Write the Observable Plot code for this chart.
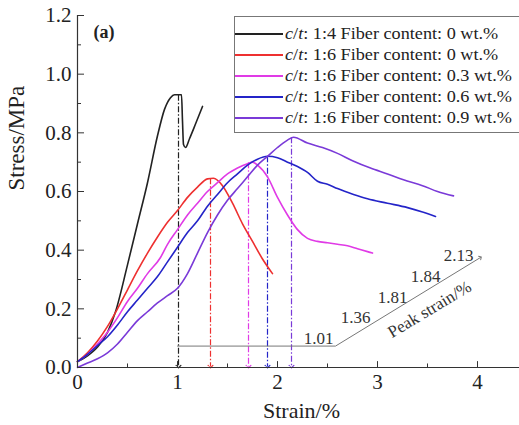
<!DOCTYPE html>
<html>
<head>
<meta charset="utf-8">
<script src="https://cdn.jsdelivr.net/npm/d3@7"></script>
<script src="https://cdn.jsdelivr.net/npm/@observablehq/plot@0.6"></script>
<style>
  html, body { margin: 0; padding: 0; background: #fff; }
  #wrap { position: relative; width: 519px; height: 425px; overflow: hidden; font-family: "Liberation Serif", "Times New Roman", serif; }
  #legend { position: absolute; left: 234px; top: 16px; width: 320px; height: 117px; border: 1px solid #777; background: #fff; box-sizing: border-box; padding-top: 6px; }
  .row { display: flex; align-items: center; height: 21px; font-size: 17px; color: #222; white-space: nowrap; }
  .sw { width: 48px; height: 2px; margin-right: 2px; flex: none; }
  .lt { display: inline-block; transform: scaleX(1.07); transform-origin: left center; }
</style>
</head>
<body>
<div id="wrap"></div>
<script>
// ---- data ----
const legendRatio = ["1:4", "1:6", "1:6", "1:6", "1:6"];
const legendFiber = ["0", "0", "0.3", "0.6", "0.9"];
const colors = ["#222222", "#ee3030", "#e03ae6", "#2424c8", "#7a3ad8"];

const black = [[0,0.02],[0.1,0.04],[0.2,0.07],[0.3,0.12],[0.38,0.19],[0.5,0.35],[0.6,0.49],[0.7,0.63],[0.8,0.79],[0.87,0.88],[0.93,0.92],[0.97,0.93],[1.04,0.93],[1.05,0.84],[1.06,0.76],[1.08,0.75],[1.12,0.78],[1.18,0.83],[1.25,0.89]];
const red = [[0,0.02],[0.1,0.05],[0.2,0.09],[0.3,0.14],[0.4,0.2],[0.5,0.265],[0.6,0.33],[0.7,0.39],[0.8,0.445],[0.9,0.495],[1.0,0.535],[1.1,0.58],[1.2,0.615],[1.3,0.643],[1.36,0.645],[1.45,0.62],[1.55,0.56],[1.65,0.49],[1.75,0.43],[1.85,0.37],[1.95,0.32]];
const magenta = [[0,0.02],[0.1,0.045],[0.2,0.08],[0.3,0.12],[0.4,0.17],[0.5,0.225],[0.6,0.27],[0.7,0.32],[0.83,0.375],[0.9,0.42],[1.0,0.47],[1.1,0.52],[1.2,0.56],[1.3,0.6],[1.4,0.63],[1.5,0.66],[1.6,0.68],[1.7,0.695],[1.75,0.7],[1.8,0.69],[1.9,0.65],[2.0,0.58],[2.1,0.52],[2.2,0.47],[2.3,0.44],[2.4,0.43],[2.5,0.425],[2.6,0.42],[2.7,0.415],[2.8,0.405],[2.9,0.395],[2.95,0.39]];
const blue = [[0,0.02],[0.1,0.045],[0.2,0.075],[0.3,0.105],[0.4,0.145],[0.5,0.19],[0.6,0.23],[0.7,0.27],[0.8,0.31],[0.9,0.36],[1.0,0.41],[1.1,0.46],[1.2,0.5],[1.3,0.55],[1.4,0.59],[1.5,0.63],[1.6,0.66],[1.7,0.69],[1.8,0.71],[1.9,0.72],[2.0,0.715],[2.1,0.7],[2.2,0.685],[2.3,0.665],[2.4,0.635],[2.5,0.625],[2.6,0.61],[2.76,0.59],[2.9,0.575],[3.1,0.56],[3.3,0.545],[3.45,0.53],[3.58,0.515]];
const purple = [[0,0.0],[0.1,0.015],[0.2,0.03],[0.3,0.05],[0.4,0.08],[0.5,0.12],[0.6,0.16],[0.7,0.19],[0.8,0.22],[0.9,0.245],[1.0,0.27],[1.1,0.32],[1.2,0.39],[1.3,0.46],[1.4,0.52],[1.5,0.57],[1.6,0.61],[1.7,0.65],[1.8,0.69],[1.9,0.72],[2.0,0.75],[2.1,0.775],[2.16,0.785],[2.3,0.765],[2.45,0.75],[2.6,0.73],[2.75,0.705],[2.93,0.68],[3.1,0.66],[3.26,0.64],[3.45,0.62],[3.6,0.6],[3.76,0.585]];
const curves = [black, red, magenta, blue, purple];

// peak drop lines (drawn position, peak stress)
const peakX = [1.01, 1.33, 1.71, 1.90, 2.14];
const peakY = [0.93, 0.645, 0.70, 0.72, 0.785];

// peak-strain annotation
const annoPath = [[1.0,0.073],[2.58,0.073],[4.03,0.375]];
const peakLabels = ["1.01", "1.36", "1.81", "1.84", "2.13"];
const peakLabelX = [2.41, 2.78, 3.15, 3.48, 3.81];
const peakLabelY = [0.1, 0.17, 0.24, 0.31, 0.38];

const xMajor = [0, 1, 2, 3, 4];
const xMinor = [0.5, 1.5, 2.5, 3.5];
const yMajor = [0, 0.2, 0.4, 0.6, 0.8, 1.0, 1.2];
const yMinor = [0.1, 0.3, 0.5, 0.7, 0.9, 1.1];

// ---- build ----
const lineData = curves.flatMap((c, i) => c.map(([x, y]) => ({x, y, s: i})));
const drops = peakX.map((x, i) => ({x, y: peakY[i], s: i}));
const anno = annoPath.map(([x, y]) => ({x, y}));
const labs = peakLabels.map((t, i) => ({t, x: peakLabelX[i], y: peakLabelY[i]}));

const plot = Plot.plot({
  width: 519,
  height: 425,
  marginLeft: 77,
  marginRight: 0,
  marginTop: 15,
  marginBottom: 58,
  style: {fontFamily: "'Liberation Serif', 'Times New Roman', serif", background: "transparent", color: "#222"},
  x: {domain: [0, 4.42]},
  y: {domain: [0, 1.2]},
  marks: [
    // drop lines
    Plot.link(drops, {x1: "x", x2: "x", y1: "y", y2: 0.003, stroke: d => colors[d.s], strokeWidth: 1.2, strokeDasharray: "6,2,1.5,2", markerEnd: "arrow"}),
    // annotation
    Plot.line(anno, {x: "x", y: "y", stroke: "#777", strokeWidth: 1, markerEnd: "arrow"}),
    Plot.text(labs, {x: "x", y: "y", text: "t", fontSize: 17, fill: "#333"}),
    Plot.text(["Peak strain/%"], {x: 3.52, y: 0.198, text: d => d, rotate: -31, fontSize: 17, fill: "#333"}),
    // curves
    Plot.line(lineData, {x: "x", y: "y", z: "s", stroke: d => colors[d.s], strokeWidth: 1.6, curve: "monotone-x"}),
    // axis lines
    Plot.ruleX([0], {stroke: "#333", strokeWidth: 1.2}),
    Plot.ruleY([0], {stroke: "#333", strokeWidth: 1.2}),
    // inward ticks
    Plot.ruleY(yMajor, {x1: 0, x2: 0.07, stroke: "#333"}),
    Plot.ruleY(yMinor, {x1: 0, x2: 0.04, stroke: "#333"}),
    Plot.ruleX(xMajor, {y1: 0, y2: 0.02, stroke: "#333"}),
    Plot.ruleX(xMinor, {y1: 0, y2: 0.012, stroke: "#333"}),
    // tick labels
    Plot.axisY({ticks: yMajor, tickSize: 0, tickPadding: 6, tickFormat: d3.format(".1f"), fontSize: 21, label: null, fill: "#222"}),
    Plot.axisX({ticks: xMajor, tickSize: 0, tickPadding: 7, tickFormat: d3.format("d"), fontSize: 21, label: null, fill: "#222"}),
    // axis titles
    Plot.text(["Stress/MPa"], {frameAnchor: "left", text: d => d, rotate: -90, dx: -61, dy: -1, fontSize: 23, fill: "#222"}),
    Plot.text(["Strain/%"], {frameAnchor: "bottom", text: d => d, dx: 3, dy: 50, fontSize: 22, fill: "#222"}),
    Plot.text(["(a)"], {frameAnchor: "top-left", text: d => d, dx: 16, dy: 10, fontSize: 18, fontWeight: "bold", fill: "#222"})
  ]
});

const wrap = document.getElementById("wrap");
wrap.appendChild(plot);

const legend = document.createElement("div");
legend.id = "legend";
legendRatio.forEach((r, i) => {
  const row = document.createElement("div");
  row.className = "row";
  const sw = document.createElement("span");
  sw.className = "sw";
  sw.style.background = colors[i];
  row.appendChild(sw);
  const t = document.createElement("span");
  t.className = "lt";
  t.innerHTML = `<i>c</i>/<i>t</i>: ${r} Fiber content: ${legendFiber[i]} wt.%`;
  row.appendChild(t);
  legend.appendChild(row);
});
wrap.appendChild(legend);
</script>
</body>
</html>
